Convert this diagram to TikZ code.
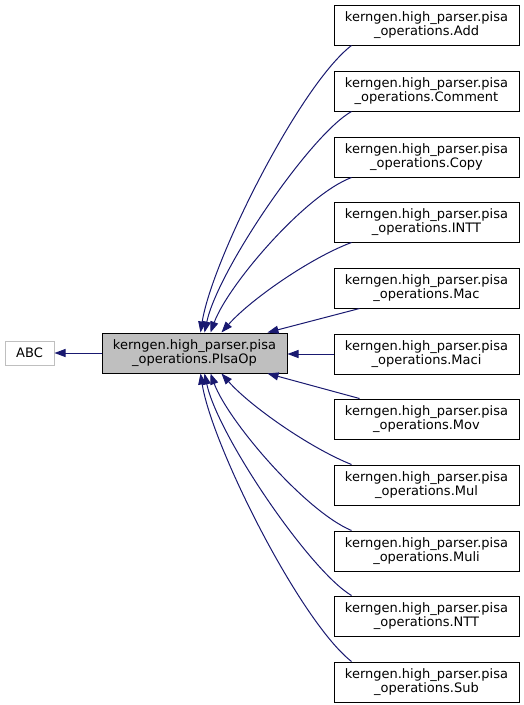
\documentclass[tikz,border=0pt]{standalone}
\usepackage{fontspec}
\setmainfont{DejaVu Sans}
\usetikzlibrary{arrows.meta}
\definecolor{edgeblue}{HTML}{191970}
\definecolor{boxgray}{HTML}{BFBFBF}
\tikzset{
  cls/.style={draw=black, line width=1pt, minimum width=185pt, minimum height=40pt, inner sep=0pt, align=center, font=\fontsize{13}{14.5}\selectfont},
  ext/.style={draw=boxgray, line width=1pt, minimum width=49pt, minimum height=24pt, inner sep=0pt, font=\fontsize{13}{14.5}\selectfont},
  inh/.style={draw=edgeblue, line width=1pt, -{Triangle[length=11pt,width=8pt]}, fill=none}
}
\begin{document}
\begin{tikzpicture}[x=1pt,y=-1pt]
\useasboundingbox (0,0) rectangle (524,705);
\node[ext] (abc) at (29.5,353) {ABC};
\node[cls, fill=boxgray] (pisa) at (194.5,353) {kerngen.high\_parser.pisa\\\_operations.PIsaOp};
\node[cls] (add) at (426.5,25) {kerngen.high\_parser.pisa\\\_operations.Add};
\node[cls] (comment) at (426.5,91) {kerngen.high\_parser.pisa\\\_operations.Comment};
\node[cls] (copy) at (426.5,157) {kerngen.high\_parser.pisa\\\_operations.Copy};
\node[cls] (intt) at (426.5,222) {kerngen.high\_parser.pisa\\\_operations.INTT};
\node[cls] (mac) at (426.5,288) {kerngen.high\_parser.pisa\\\_operations.Mac};
\node[cls] (maci) at (426.5,354) {kerngen.high\_parser.pisa\\\_operations.Maci};
\node[cls] (mov) at (426.5,419) {kerngen.high\_parser.pisa\\\_operations.Mov};
\node[cls] (mul) at (426.5,485) {kerngen.high\_parser.pisa\\\_operations.Mul};
\node[cls] (muli) at (426.5,551) {kerngen.high\_parser.pisa\\\_operations.Muli};
\node[cls] (ntt) at (426.5,616) {kerngen.high\_parser.pisa\\\_operations.NTT};
\node[cls] (sub) at (426.5,682) {kerngen.high\_parser.pisa\\\_operations.Sub};
% edges
\draw[inh] (pisa.west) -- (abc.east);
\draw[inh] ([xshift=18pt]add.south west) .. controls (300,85) and (212,260) .. ([xshift=99pt]pisa.north west);
\draw[inh] ([xshift=18pt]comment.south west) .. controls (310,135) and (218,270) .. ([xshift=103pt]pisa.north west);
\draw[inh] ([xshift=18pt]copy.south west) .. controls (305,195) and (228,285) .. ([xshift=109pt]pisa.north west);
\draw[inh] ([xshift=18pt]intt.south west) .. controls (310,258) and (250,300) .. ([xshift=120pt]pisa.north west);
\draw[inh] ([xshift=26pt]mac.south west) -- ([xshift=166pt]pisa.north west);
\draw[inh] (maci.west) -- (maci.west -| pisa.east);
\draw[inh] ([xshift=26pt]mov.north west) -- ([xshift=166pt]pisa.south west);
\draw[inh] ([xshift=18pt]mul.north west) .. controls (310,448) and (250,406) .. ([xshift=120pt]pisa.south west);
\draw[inh] ([xshift=18pt]muli.north west) .. controls (305,511) and (228,421) .. ([xshift=109pt]pisa.south west);
\draw[inh] ([xshift=18pt]ntt.north west) .. controls (310,571) and (218,436) .. ([xshift=103pt]pisa.south west);
\draw[inh] ([xshift=18pt]sub.north west) .. controls (300,621) and (212,446) .. ([xshift=99pt]pisa.south west);
\end{tikzpicture}
\end{document}
